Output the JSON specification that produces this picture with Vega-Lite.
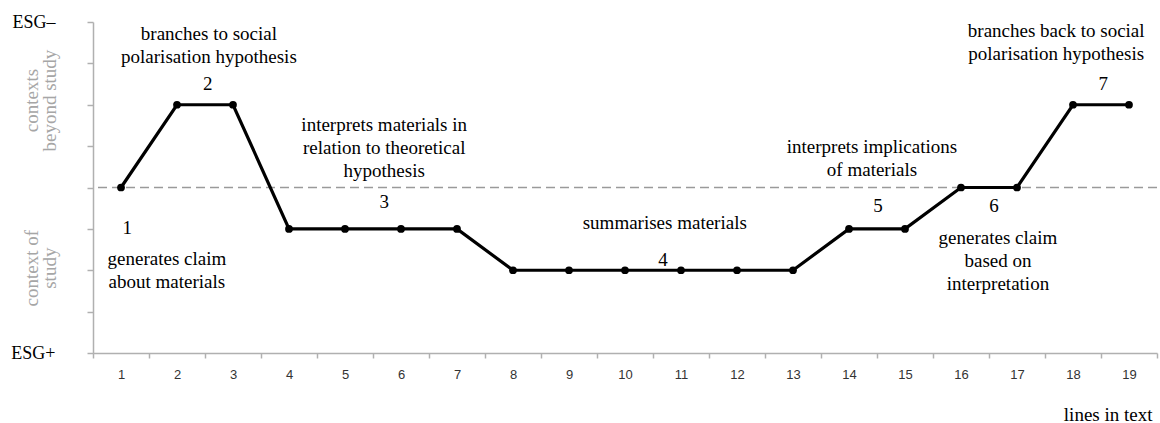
{
  "$schema": "https://vega.github.io/schema/vega-lite/v6.json",
  "autosize": "none",
  "padding": {"left": 93, "top": 22, "right": 3, "bottom": 70},
  "width": 1064,
  "height": 331,
  "background": "white",
  "config": {
    "view": {"stroke": null},
    "axisX": {
      "grid": false,
      "domainColor": "#b0b0b0",
      "domainWidth": 1.5,
      "tickColor": "#b0b0b0",
      "tickWidth": 1.5,
      "tickSize": 5,
      "labelPadding": 10,
      "labelFont": "Liberation Sans",
      "labelFontSize": 13,
      "labelColor": "#333333",
      "labelOverlap": false,
      "labelFlush": false,
      "labelBound": false,
      "titleFont": "Liberation Serif",
      "titleFontSize": 19,
      "titleFontWeight": "normal",
      "titleColor": "black"
    },
    "axisY": {
      "grid": false,
      "domainColor": "#b0b0b0",
      "domainWidth": 1.5,
      "tickColor": "#b0b0b0",
      "tickWidth": 1.5,
      "tickSize": 6,
      "labelPadding": 32,
      "labelFont": "Liberation Serif",
      "labelFontSize": 18,
      "labelColor": "black",
      "labelOverlap": false,
      "labelFlush": false
    }
  },
  "datasets": {
    "path": [
      {"line": 1, "level": 0}, {"line": 2, "level": 2}, {"line": 3, "level": 2},
      {"line": 4, "level": -1}, {"line": 5, "level": -1}, {"line": 6, "level": -1}, {"line": 7, "level": -1},
      {"line": 8, "level": -2}, {"line": 9, "level": -2}, {"line": 10, "level": -2}, {"line": 11, "level": -2},
      {"line": 12, "level": -2}, {"line": 13, "level": -2}, {"line": 14, "level": -1}, {"line": 15, "level": -1},
      {"line": 16, "level": 0}, {"line": 17, "level": 0}, {"line": 18, "level": 2}, {"line": 19, "level": 2}
    ],
    "notes": [
      {"x": 2.57, "y": 3.72, "label": "branches to social\npolarisation hypothesis"},
      {"x": 2.55, "y": 2.51, "label": "2"},
      {"x": 5.70, "y": 1.50, "label": "interprets materials in\nrelation to theoretical\nhypothesis"},
      {"x": 5.70, "y": -0.36, "label": "3"},
      {"x": 10.71, "y": -0.85, "label": "summarises materials"},
      {"x": 10.68, "y": -1.76, "label": "4"},
      {"x": 14.41, "y": 0.97, "label": "interprets implications\nof materials"},
      {"x": 14.52, "y": -0.44, "label": "5"},
      {"x": 16.59, "y": -0.44, "label": "6"},
      {"x": 16.66, "y": -1.21, "label": "generates claim\nbased on\ninterpretation"},
      {"x": 17.70, "y": 3.79, "label": "branches back to social\npolarisation hypothesis"},
      {"x": 18.54, "y": 2.51, "label": "7"},
      {"x": 1.11, "y": -0.99, "label": "1"},
      {"x": 1.82, "y": -1.72, "label": "generates claim\nabout materials"}
    ],
    "sides": [
      {"x": -0.59, "y": 2.1, "label": "contexts\nbeyond study"},
      {"x": -0.59, "y": -1.95, "label": "context of\nstudy"}
    ]
  },
  "layer": [
    {
      "data": {"values": [{"v": 0}]},
      "mark": {"type": "rule", "color": "#9a9a9a", "strokeWidth": 1.5, "strokeDash": [9, 5]},
      "encoding": {
        "y": {
          "field": "v", "type": "quantitative",
          "scale": {"domain": [-4, 4], "nice": false},
          "axis": {
            "title": null,
            "values": [-4, -3, -2, -1, 0, 1, 2, 3, 4],
            "labelExpr": "datum.value == 4 ? 'ESG–' : (datum.value == -4 ? 'ESG+' : '')"
          }
        }
      }
    },
    {
      "data": {"name": "path"},
      "mark": {"type": "line", "color": "black", "strokeWidth": 3.2, "point": {"filled": true, "color": "black", "size": 60}},
      "encoding": {
        "x": {
          "field": "line", "type": "quantitative",
          "scale": {"domain": [0.5, 19.5], "nice": false, "zero": false},
          "axis": {
            "title": "lines in text",
            "values": [0.5, 1.5, 2.5, 3.5, 4.5, 5.5, 6.5, 7.5, 8.5, 9.5, 10.5, 11.5, 12.5, 13.5, 14.5, 15.5, 16.5, 17.5, 18.5, 19.5],
            "labelExpr": "datum.value < 19 ? '' + (datum.value + 0.5) : ''",
            "labelOffset": 28,
            "titleAnchor": "end",
            "titleAlign": "right",
            "titleBaseline": "middle",
            "titleX": 1059,
            "titleY": 61
          }
        },
        "y": {
          "field": "level", "type": "quantitative",
          "scale": {"domain": [-4, 4], "nice": false},
          "axis": {
            "title": null,
            "values": [-4, -3, -2, -1, 0, 1, 2, 3, 4],
            "labelExpr": "datum.value == 4 ? 'ESG–' : (datum.value == -4 ? 'ESG+' : '')"
          }
        }
      }
    },
    {
      "data": {"name": "notes"},
      "mark": {"type": "text", "font": "Liberation Serif", "fontSize": 19, "color": "black", "align": "center", "baseline": "middle", "lineBreak": "\n", "lineHeight": 23},
      "encoding": {
        "x": {"field": "x", "type": "quantitative"},
        "y": {"field": "y", "type": "quantitative"},
        "text": {"field": "label"}
      }
    },
    {
      "data": {"name": "sides"},
      "mark": {"type": "text", "font": "Liberation Serif", "fontSize": 19, "color": "#a6a6a6", "align": "center", "baseline": "middle", "angle": 270, "lineBreak": "\n", "lineHeight": 18},
      "encoding": {
        "x": {"field": "x", "type": "quantitative"},
        "y": {"field": "y", "type": "quantitative"},
        "text": {"field": "label"}
      }
    }
  ]
}
